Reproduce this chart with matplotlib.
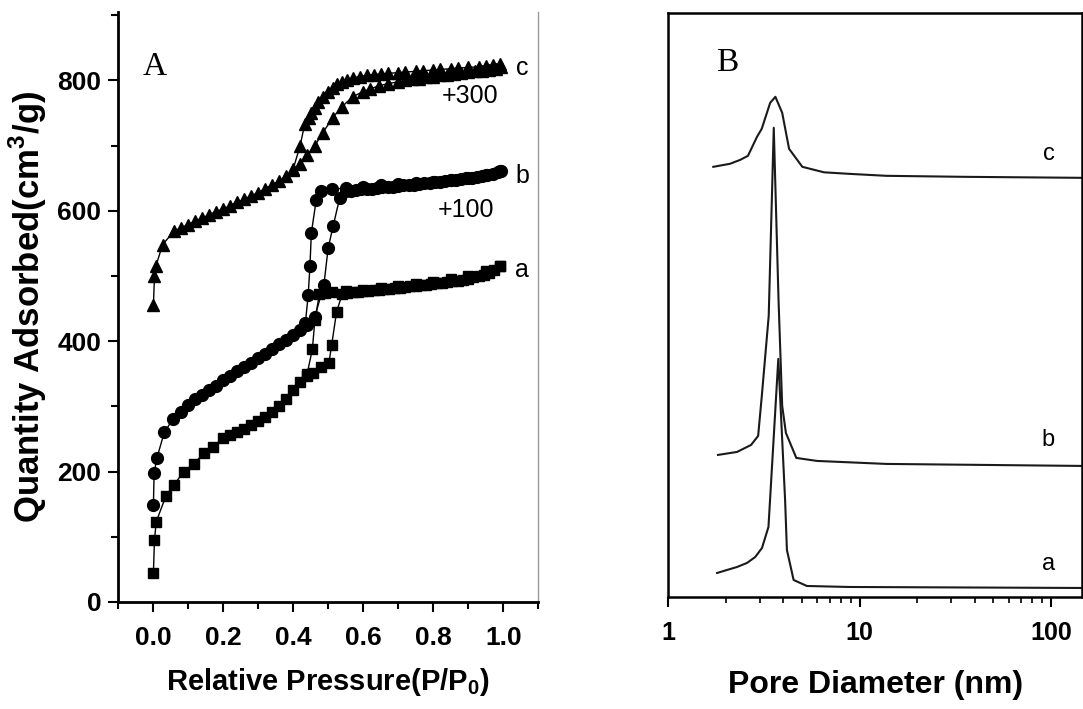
import matplotlib
matplotlib.use('Agg')
import matplotlib.pyplot as plt
from matplotlib.ticker import MultipleLocator, LogLocator, NullFormatter

plt.rcParams['font.family'] = ['Liberation Sans', 'DejaVu Sans']
plt.rcParams['mathtext.fontset'] = 'custom'
plt.rcParams['mathtext.rm'] = 'Liberation Sans:bold'
plt.rcParams['mathtext.bf'] = 'Liberation Sans:bold'

# ---- panel A: N2 isotherms (b shifted +100, c shifted +300) ----
a_ads_x = [0.001, 0.004, 0.009, 0.037, 0.06, 0.088, 0.116, 0.145, 0.17, 0.20, 0.22, 0.24, 0.26,
           0.28, 0.30, 0.32, 0.34, 0.36, 0.38, 0.40, 0.42, 0.44, 0.457, 0.48, 0.502, 0.51, 0.524,
           0.54, 0.555, 0.57, 0.585, 0.60, 0.615, 0.63, 0.645, 0.66, 0.675, 0.69, 0.705, 0.72,
           0.735, 0.75, 0.765, 0.78, 0.795, 0.81, 0.825, 0.84, 0.855, 0.87, 0.885, 0.90, 0.915,
           0.93, 0.945, 0.96, 0.975, 0.99]
a_ads_y = [45, 95, 123, 163, 180, 200, 212, 228, 238, 251, 256, 261, 266,
           271, 277, 284, 292, 301, 312, 325, 338, 346, 351, 360, 366, 394, 445,
           472, 474, 475, 476, 477, 477, 478, 479, 480, 480, 481, 482, 483,
           484, 485, 486, 487, 488, 489, 490, 491, 492, 493, 494, 496, 498,
           500, 502, 505, 509, 515]
a_des_x = [0.99, 0.95, 0.90, 0.85, 0.80, 0.75, 0.70, 0.65, 0.60, 0.55, 0.51, 0.49, 0.475,
           0.462, 0.455, 0.44]
a_des_y = [516, 507, 500, 495, 491, 488, 485, 482, 479, 477, 475, 474, 472,
           432, 388, 350]

b_ads_x = [0.001, 0.003, 0.011, 0.032, 0.056, 0.08, 0.10, 0.12, 0.14, 0.16, 0.18, 0.20, 0.22,
           0.24, 0.26, 0.28, 0.30, 0.32, 0.34, 0.36, 0.38, 0.40, 0.42, 0.44, 0.462, 0.488,
           0.50, 0.514, 0.533, 0.55, 0.565, 0.58, 0.595, 0.61, 0.625, 0.64, 0.655, 0.67, 0.685,
           0.70, 0.715, 0.73, 0.745, 0.76, 0.775, 0.79, 0.805, 0.82, 0.835, 0.85, 0.865, 0.88,
           0.895, 0.91, 0.925, 0.94, 0.955, 0.97, 0.985, 0.995]
b_ads_y = [148, 198, 221, 260, 280, 292, 302, 311, 318, 325, 332, 340, 347,
           354, 361, 367, 374, 381, 388, 395, 402, 410, 417, 425, 437, 487,
           543, 576, 620, 630, 631, 632, 633, 634, 634, 635, 636, 637, 637,
           638, 639, 640, 640, 641, 642, 643, 644, 645, 646, 647, 648, 649,
           650, 651, 652, 654, 655, 657, 659, 661]
b_des_x = [0.99, 0.95, 0.90, 0.85, 0.80, 0.75, 0.70, 0.65, 0.60, 0.55, 0.51, 0.48, 0.466,
           0.452, 0.448, 0.443, 0.435]
b_des_y = [661, 655, 650, 647, 645, 643, 641, 639, 637, 635, 633, 630, 617,
           566, 515, 471, 428]

c_ads_x = [0.001, 0.004, 0.008, 0.027, 0.06, 0.08, 0.10, 0.12, 0.14, 0.16, 0.18, 0.20, 0.22,
           0.24, 0.26, 0.28, 0.30, 0.32, 0.34, 0.36, 0.38, 0.40, 0.42, 0.44, 0.462, 0.485,
           0.513, 0.54, 0.57, 0.60, 0.62, 0.646, 0.67, 0.70, 0.72, 0.74, 0.76, 0.78, 0.80,
           0.82, 0.84, 0.86, 0.88, 0.90, 0.92, 0.94, 0.96, 0.98, 0.995]
c_ads_y = [455, 500, 515, 548, 569, 574, 579, 584, 589, 594, 599, 603, 608,
           613, 618, 623, 628, 634, 640, 646, 653, 662, 672, 686, 700, 720,
           743, 760, 775, 783, 787, 792, 795, 798, 800, 802, 803, 805, 806,
           808, 809, 810, 811, 813, 814, 815, 816, 818, 820]
c_des_x = [0.99, 0.97, 0.95, 0.93, 0.90, 0.87, 0.85, 0.82, 0.80, 0.77, 0.75, 0.72, 0.70,
           0.67, 0.65, 0.63, 0.61, 0.59, 0.57, 0.555, 0.54, 0.525, 0.513, 0.50, 0.485,
           0.472, 0.462, 0.452, 0.445, 0.433, 0.42, 0.40]
c_des_y = [825, 824, 822, 821, 820, 819, 818, 817, 816, 815, 814, 813, 812,
           811, 810, 809, 808, 806, 804, 801, 798, 794, 789, 783, 775,
           767, 758, 750, 742, 733, 700, 664]

# ---- panel B: pore size distributions (offset, arb. units) ----
pa_d = [1.80, 2.29, 2.58, 2.85, 3.09, 3.34, 3.76, 3.85, 4.08, 4.17, 4.52, 5.30, 8.78, 145]
pa_v = [24, 30, 34, 40, 49, 70, 238, 197, 97, 47, 17, 11, 10, 9]
pb_d = [1.82, 2.29, 2.71, 2.95, 3.08, 3.35, 3.56, 3.77, 3.94, 4.12, 4.67, 5.99, 13.8, 145]
pb_v = [142, 145, 152, 161, 200, 281, 469, 297, 191, 164, 139, 136, 133, 131]
pc_d = [1.72, 2.10, 2.38, 2.61, 2.91, 3.08, 3.41, 3.63, 3.94, 4.28, 5.02, 6.52, 8.78, 13.8, 35, 145]
pc_v = [430, 433, 437, 441, 460, 468, 494, 500, 484, 448, 430, 424.5, 423, 421, 420, 419]

fig = plt.figure(figsize=(10.83, 7.09), dpi=100)
axA = fig.add_axes([0.109, 0.151, 0.388, 0.832])
axB = fig.add_axes([0.617, 0.158, 0.382, 0.824])

axA.plot(a_ads_x, a_ads_y, 's-', color='black', ms=7.5, lw=1)
axA.plot(a_des_x, a_des_y, 's-', color='black', ms=7.5, lw=1)
axA.plot(b_ads_x, b_ads_y, 'o-', color='black', ms=8.5, lw=1)
axA.plot(b_des_x, b_des_y, 'o-', color='black', ms=8.5, lw=1)
axA.plot(c_ads_x, c_ads_y, '^-', color='black', ms=9, lw=1)
axA.plot(c_des_x, c_des_y, '^-', color='black', ms=9, lw=1)

axA.set_xlim(-0.1, 1.1)
axA.set_ylim(0, 905)
axA.xaxis.set_minor_locator(MultipleLocator(0.1))
axA.yaxis.set_major_locator(MultipleLocator(200))
axA.yaxis.set_minor_locator(MultipleLocator(100))
axA.set_xticks([0.0, 0.2, 0.4, 0.6, 0.8, 1.0])
axA.set_xticklabels(['0.0', '0.2', '0.4', '0.6', '0.8', '1.0'])
axA.tick_params(which='major', direction='out', length=7, width=1.5, labelsize=19)
axA.tick_params(axis='x', which='major', pad=10)
axA.tick_params(axis='y', which='major', pad=5)
axA.tick_params(which='minor', direction='out', length=5, width=1.5)
axA.spines['top'].set_visible(False)
axA.spines['left'].set_linewidth(2)
axA.spines['bottom'].set_linewidth(2)
axA.spines['right'].set_color('#999999')
axA.spines['right'].set_linewidth(1)
for t in axA.get_xticklabels() + axA.get_yticklabels():
    t.set_fontweight('bold')
axA.set_xlabel('Relative Pressure(P/P$_0$)', fontsize=21, fontweight='bold', labelpad=12)
axA.set_ylabel('Quantity Adsorbed(cm$^3$/g)', fontsize=25, fontweight='bold', labelpad=6)

axA.text(0.088, 0.908, 'A', transform=axA.transAxes, fontsize=24,
         family='Liberation Serif', ha='center', va='center')
axA.text(1.054, 819, 'c', fontsize=18, ha='center', va='center')
axA.text(0.905, 776, '+300', fontsize=18, ha='center', va='center')
axA.text(1.054, 653, 'b', fontsize=18, ha='center', va='center')
axA.text(0.895, 602, '+100', fontsize=18, ha='center', va='center')
axA.text(1.054, 510, 'a', fontsize=18, ha='center', va='center')

# panel B
for d, v in [(pa_d, pa_v), (pb_d, pb_v), (pc_d, pc_v)]:
    axB.plot(d, v, '-', color='#1a1a1a', lw=1.5)
axB.set_xscale('log')
axB.set_xlim(1, 145)
axB.set_ylim(0, 584)
axB.set_yticks([])
axB.xaxis.set_minor_locator(LogLocator(base=10, subs=range(2, 10)))
axB.xaxis.set_minor_formatter(NullFormatter())
axB.set_xticks([1, 10, 100])
axB.set_xticklabels(['1', '10', '100'])
axB.tick_params(which='major', direction='out', length=7, width=1.5, labelsize=18, pad=10)
axB.tick_params(which='minor', direction='out', length=4, width=1.2)
for s in axB.spines.values():
    s.set_linewidth(1.8)
for t in axB.get_xticklabels():
    t.set_fontweight('bold')
axB.set_xlabel('Pore Diameter (nm)', fontsize=23, fontweight='bold', labelpad=18)
axB.text(0.142, 0.914, 'B', transform=axB.transAxes, fontsize=24,
         family='Liberation Serif', ha='center', va='center')
axB.text(97, 443, 'c', fontsize=17, ha='center', va='center')
axB.text(97, 157, 'b', fontsize=17, ha='center', va='center')
axB.text(97, 33, 'a', fontsize=17, ha='center', va='center')

fig.savefig('out.png', dpi=100)
